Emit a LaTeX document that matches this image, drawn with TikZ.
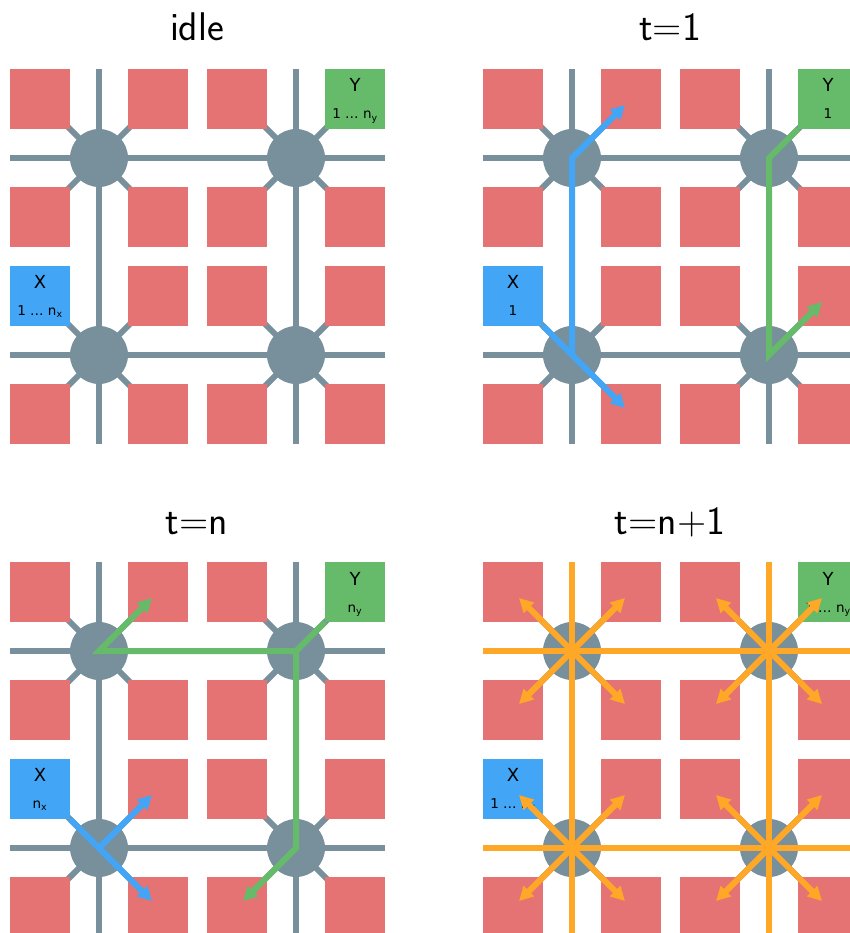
\documentclass[tikz,border=0pt]{standalone}
\usepackage{fontspec}
\newfontfamily\labelfont{DejaVu Sans}
\usetikzlibrary{arrows.meta,backgrounds}

\definecolor{tilered}{HTML}{E57373}
\definecolor{routergrey}{HTML}{78909C}
\definecolor{srcblue}{HTML}{42A5F5}
\definecolor{dstgreen}{HTML}{66BB6A}
\definecolor{bcastorange}{HTML}{FFA726}

\tikzset{
  wire/.style={routergrey, line width=6pt},
  tile/.style={fill=tilered},
  router/.style={circle, fill=routergrey, minimum size=58pt, inner sep=0pt},
  corebox/.style={minimum size=60pt, inner sep=0pt, outer sep=0pt},
  xbox/.style={corebox, fill=srcblue},
  ybox/.style={corebox, fill=dstgreen},
  boxname/.style={anchor=base, inner sep=0pt, font=\fontsize{18}{21}\selectfont\labelfont},
  boxcount/.style={anchor=base, inner sep=0pt, font=\fontsize{13.5}{16}\selectfont\labelfont},
  paneltitle/.style={anchor=base, inner sep=0pt, font=\fontsize{40}{48}\selectfont\sffamily},
  flow/.style={line width=6pt, -{Triangle[length=14pt,width=14pt]}},
  bcastlink/.style={bcastorange, line width=6pt},
  bcast/.style={bcastlink, {Triangle[length=14pt,width=14pt]}-{Triangle[length=14pt,width=14pt]}},
}

% straight links through the four routers
\newcommand{\meshlinks}[1]{%
  \draw[#1] ([yshift=89pt]rNW.center) -- (rSW.center) -- ([yshift=-89pt]rSW.center);
  \draw[#1] ([yshift=89pt]rNE.center) -- (rSE.center) -- ([yshift=-89pt]rSE.center);
  \draw[#1] ([xshift=-89pt]rNW.center) -- (rNE.center) -- ([xshift=89pt]rNE.center);
  \draw[#1] ([xshift=-89pt]rSW.center) -- (rSE.center) -- ([xshift=89pt]rSE.center);
}

% routers, links, cores, X and Y
\newcommand{\meshgrid}{%
  \node[router] (rNW) at (99,158) {};
  \node[router] (rNE) at (296,158) {};
  \node[router] (rSW) at (99,355) {};
  \node[router] (rSE) at (296,355) {};
  \begin{scope}[on background layer]
    \meshlinks{wire}
    \foreach \rt in {rNW,rNE,rSW,rSE}{
      \draw[wire] ([shift={(-33pt,33pt)}]\rt.center) -- ([shift={(33pt,-33pt)}]\rt.center);
      \draw[wire] ([shift={(-33pt,-33pt)}]\rt.center) -- ([shift={(33pt,33pt)}]\rt.center);
    }
    \foreach \x in {10,128,207,325}
      \foreach \y in {69,187,266,384}
        \fill[tile] (\x,\y) rectangle ++(60,60);
  \end{scope}
  \node[xbox] (X) at (40,296) {};
  \node[ybox] (Y) at (355,99) {};
  \node[boxname] (Xname) at ([yshift=8pt]X.center) {X};
  \node[boxname] (Yname) at ([yshift=7pt]Y.center) {Y};
}

\begin{document}
\begin{tikzpicture}[x=1pt,y=-1pt]
\useasboundingbox (0,0) rectangle (850,933);
\clip (0,0) rectangle (850,933);

% ============================================
% IDLE
% ============================================
\begin{scope}
  \meshgrid
  \node[boxcount] (Xcount) at ([yshift=-19pt]X.center) {1 … n\textsubscript{x}};
  \node[boxcount] (Ycount) at ([yshift=-20pt]Y.center) {1 … n\textsubscript{y}};
  \node[paneltitle] (title) at (197,41) {idle};
\end{scope}

% ============================================
% t=1
% ============================================
\begin{scope}[shift={(473,0)}]
  \meshgrid
  \node[boxcount] (Xcount) at ([yshift=-19pt]X.center) {1};
  \node[boxcount] (Ycount) at ([yshift=-20pt]Y.center) {1};
  \node[paneltitle] (title) at (197,41) {t=1};
  % free ends of the flits
  \coordinate (bNE) at ([shift={(53pt,53pt)}]rNW.center);
  \coordinate (bSE) at ([shift={(53pt,-53pt)}]rSW.center);
  \coordinate (gNE) at ([shift={(53pt,53pt)}]rSE.center);
  \draw[flow,srcblue] (X.south east) -- (rSW.center) -- (bSE);
  \draw[flow,srcblue] (rSW.center) -- (rNW.center) -- (bNE);
  \draw[flow,dstgreen] (Y.south west) -- (rNE.center) -- (rSE.center) -- (gNE);
\end{scope}

% ============================================
% t=n
% ============================================
\begin{scope}[shift={(0,493)}]
  \meshgrid
  \node[boxcount] (Xcount) at ([yshift=-19pt]X.center) {n\textsubscript{x}};
  \node[boxcount] (Ycount) at ([yshift=-20pt]Y.center) {n\textsubscript{y}};
  \node[paneltitle] (title) at (197,41) {t=n};
  % free ends of the flits
  \coordinate (gNW) at ([shift={(53pt,53pt)}]rNW.center);
  \coordinate (gSW) at ([shift={(-53pt,-53pt)}]rSE.center);
  \coordinate (bNE) at ([shift={(53pt,53pt)}]rSW.center);
  \coordinate (bSE) at ([shift={(53pt,-53pt)}]rSW.center);
  \draw[flow,dstgreen] (Y.south west) -- (rNE.center) -- (rNW.center) -- (gNW);
  \draw[flow,dstgreen] (rNE.center) -- (rSE.center) -- (gSW);
  \draw[flow,srcblue] (X.south east) -- (rSW.center) -- (bSE);
  \draw[flow,srcblue] (rSW.center) -- (bNE);
\end{scope}

% ============================================
% t=n+1
% ============================================
\begin{scope}[shift={(473,493)}]
  \meshgrid
  \node[boxcount] (Xcount) at ([yshift=-19pt]X.center) {1 … n\textsubscript{x}};
  \node[boxcount] (Ycount) at ([yshift=-20pt]Y.center) {1 … n\textsubscript{y}};
  \node[paneltitle] (title) at (197,41) {t=n+1};
  % broadcast on every link
  \meshlinks{bcastlink}
  \foreach \rt in {rNW,rNE,rSW,rSE}{
    \draw[bcast] ([shift={(-53pt,53pt)}]\rt.center) -- ([shift={(53pt,-53pt)}]\rt.center);
    \draw[bcast] ([shift={(-53pt,-53pt)}]\rt.center) -- ([shift={(53pt,53pt)}]\rt.center);
  }
\end{scope}
\end{tikzpicture}
\end{document}
